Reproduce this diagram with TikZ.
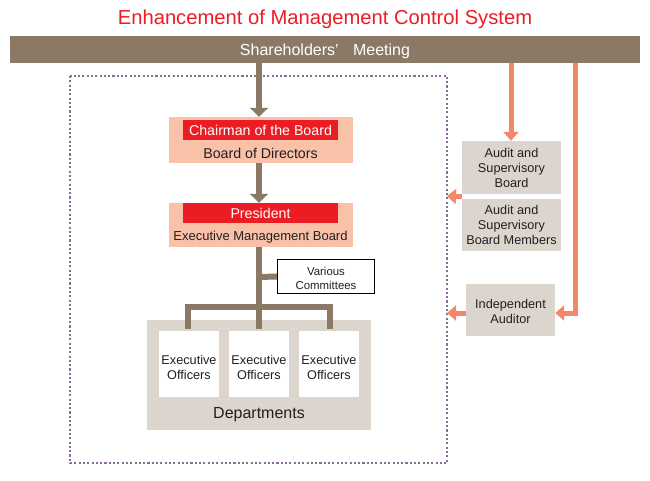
\documentclass[tikz,border=0pt]{standalone}
\usepackage{fontspec}
\setmainfont{Liberation Sans}
\usetikzlibrary{arrows.meta}
\definecolor{brownc}{HTML}{8B7966}
\definecolor{salm}{HTML}{F4866A}
\definecolor{pinkc}{HTML}{F9C1A8}
\definecolor{redc}{HTML}{EC1C24}
\definecolor{grayc}{HTML}{DBD5CD}
\definecolor{purp}{HTML}{8A6C94}
\definecolor{txtc}{HTML}{231F20}
\tikzset{
  box/.style={draw=none, inner sep=0pt, align=center, text=txtc},
  lbl/.style={inner sep=0pt, align=center, text=txtc},
  brownline/.style={draw=brownc, line width=6pt},
  brownarrow/.style={brownline, -{Triangle[width=18pt,length=9pt]}},
  salmarrow/.style={draw=salm, line width=5pt, -{Triangle[width=15pt,length=9pt]}},
  txt/.style={font=\fontsize{12.7}{15}\selectfont}
}
\begin{document}
\begin{tikzpicture}[x=1pt,y=-1pt]
\useasboundingbox (0,0) rectangle (650,480);
% title
\node[lbl, text=redc, font=\fontsize{20.2}{22}\selectfont] (title) at (325,19.5) {Enhancement of Management Control System};
% bar
\node[box, fill=brownc, minimum width=630pt, minimum height=27pt] (sh) at (325,49.5) {};
\node[lbl, text=white, font=\fontsize{16}{18}\selectfont] (sht) at (325,51) {Shareholders'\hspace{0.9em}Meeting};
% dotted frame
\draw[purp, line width=2.1pt, dash pattern=on 2.1pt off 2.2pt] (70,76) rectangle (447,463);
% board of directors
\node[box, fill=pinkc, minimum width=184pt, minimum height=46pt] (bod) at (261,140) {};
\node[box, fill=redc, minimum width=155pt, minimum height=20pt] (chair) at (260.5,130) {};
\node[lbl, text=white, font=\fontsize{14.2}{16}\selectfont] (chairt) at (260.5,130.5) {Chairman of the Board};
\node[lbl, font=\fontsize{14.2}{16}\selectfont] (bodt) at (260.5,153.5) {Board of Directors};
% executive management board
\node[box, fill=pinkc, minimum width=184pt, minimum height=44pt] (emb) at (261,225) {};
\node[box, fill=redc, minimum width=155pt, minimum height=20pt] (pres) at (260.5,213) {};
\node[lbl, text=white, font=\fontsize{14.2}{16}\selectfont] (prest) at (260.5,213.5) {President};
\node[lbl, font=\fontsize{13}{15}\selectfont] (embt) at (260.5,237) {Executive Management Board};
% departments
\node[box, fill=grayc, minimum width=224pt, minimum height=110pt] (dept) at (259,375) {};
\node[lbl, font=\fontsize{16}{18}\selectfont] (deptt) at (259,414.5) {Departments};
\node[box, fill=white, minimum width=60pt, minimum height=66pt] (eo1) at (189,364) {};
\node[box, fill=white, minimum width=60pt, minimum height=66pt] (eo2) at (259,364) {};
\node[box, fill=white, minimum width=60pt, minimum height=66pt] (eo3) at (329,364) {};
\node[lbl, txt] at (189,367) {Executive\\Officers};
\node[lbl, txt] at (259,367) {Executive\\Officers};
\node[lbl, txt] at (329,367) {Executive\\Officers};
% various committees
\node[box, draw=black, line width=1pt, fill=white, minimum width=97pt, minimum height=34pt] (vc) at (326,276.5) {};
\node[lbl, font=\fontsize{11.4}{14}\selectfont] (vct) at (326,278) {Various\\Committees};
% right side boxes
\node[box, fill=grayc, minimum width=99pt, minimum height=53pt, txt] (asb) at (511.5,167.5) {Audit and\\Supervisory\\Board};
\node[box, fill=grayc, minimum width=99pt, minimum height=52pt, txt] (asbm) at (511.5,225) {Audit and\\Supervisory\\Board Members};
\node[box, fill=grayc, minimum width=89pt, minimum height=52pt] (ia) at (510.5,310) {};
\node[lbl, txt] (iat) at (510.5,311) {Independent\\Auditor};
\coordinate (fr1) at (447,196);
\coordinate (fr2) at (447,313);
\coordinate (b1) at (188,329);
\coordinate (b3) at (330,329);
% brown connectors
\draw[brownarrow] (sh.south -| 259,0) -- (bod.north -| 259,0);
\draw[brownarrow] (bod.south -| 259,0) -- (emb.north -| 259,0);
\draw[brownline] (emb.south -| 259,0) -- (259,310);
\draw[brownline] (259,277) -- (vc.west);
\draw[brownline, line join=miter] (b1) -- (188,307) -- (330,307) -- (b3);
\draw[brownline] (259,307) -- (259,329);
% salmon connectors
\draw[salmarrow] (sh.south -| 511,0) -- (asb.north -| 511,0);
\draw[salmarrow] (sh.south -| 575,0) -- (575,313) -- (ia.east |- 0,313);
\draw[salmarrow] (asb.south west) ++(0,2.5) -- (fr1);
\draw[salmarrow] (ia.west |- 0,313) -- (fr2);
\end{tikzpicture}
\end{document}
